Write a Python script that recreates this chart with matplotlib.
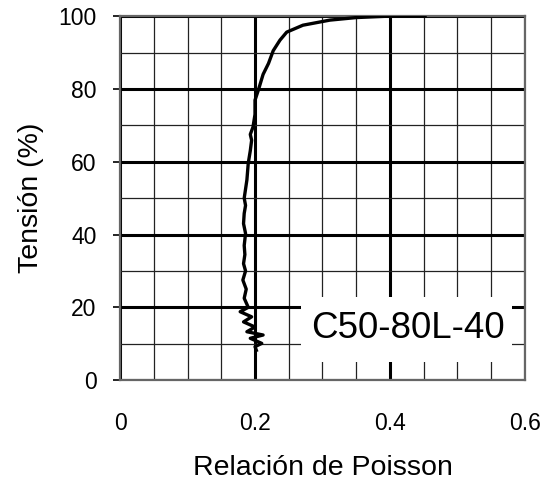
import numpy as np
import matplotlib.pyplot as plt
from matplotlib.patches import Rectangle
from matplotlib.ticker import MultipleLocator

plt.rcParams['font.family'] = ['Liberation Sans', 'DejaVu Sans']

# Poisson ratio vs stress level (% of peak), read bottom to top
poisson = [0.202, 0.200, 0.210, 0.193, 0.212, 0.188, 0.200, 0.183, 0.195, 0.178,
           0.190, 0.184, 0.187, 0.182, 0.186, 0.183, 0.185, 0.184, 0.186, 0.183,
           0.184, 0.186, 0.184, 0.186, 0.188, 0.190, 0.193, 0.195, 0.193, 0.197,
           0.200, 0.200, 0.205, 0.212, 0.220, 0.227, 0.237, 0.247, 0.271, 0.311,
           0.350, 0.400, 0.452]
tension = [8.2, 9.2, 10.1, 11.5, 12.4, 13.3, 14.6, 16.0, 17.4, 18.8,
           20.0, 22.5, 25.0, 27.5, 30.0, 32.0, 34.5, 37.0, 40.3, 43.0,
           45.8, 48.0, 50.0, 52.5, 55.0, 59.6, 63.0, 65.9, 67.5, 69.5,
           73.0, 76.9, 79.7, 84.0, 87.0, 90.5, 93.4, 95.6, 97.5, 98.9,
           99.6, 100.0, 100.0]

x_ticks = [0, 0.2, 0.4, 0.6]
x_labels = ['0', '0.2', '0.4', '0.6']
y_ticks = [0, 20, 40, 60, 80, 100]

fig = plt.figure(figsize=(5.48, 4.88), dpi=100)
ax = fig.add_axes([0.219, 0.221, 0.739, 0.746])

ax.set_xlim(0, 0.6)
ax.set_ylim(0, 100)
ax.set_xticks(x_ticks)
ax.set_xticklabels(x_labels)
ax.set_yticks(y_ticks)
ax.xaxis.set_minor_locator(MultipleLocator(0.05))
ax.yaxis.set_minor_locator(MultipleLocator(10))

ax.grid(True, which='minor', color='#222222', linewidth=0.9)
ax.grid(True, which='major', color='black', linewidth=2.2)
ax.set_axisbelow(True)

ax.tick_params(axis='x', which='both', length=0, pad=23, labelsize=16.5)
ax.tick_params(axis='y', which='major', length=5, width=1.2, direction='out',
               pad=12, labelsize=16.5)
ax.tick_params(axis='y', which='minor', length=0)

for sp in ax.spines.values():
    sp.set_color('#666666')
    sp.set_linewidth(1.6)

ax.plot(poisson, tension, color='black', linewidth=2.4, zorder=3)

# label box blanks out the grid behind it
ax.add_patch(Rectangle((0.447, 0.049), 0.521, 0.179, transform=ax.transAxes,
                       facecolor='white', edgecolor='none', zorder=4))
ax.text(0.71, 0.142, 'C50-80L-40', transform=ax.transAxes, fontsize=26.5,
        ha='center', va='center', zorder=5)

ax.set_xlabel('Relación de Poisson', fontsize=20.5, labelpad=14)
ax.set_ylabel('Tensión (%)', fontsize=20.5, labelpad=10)

fig.savefig('out.png', dpi=100)
